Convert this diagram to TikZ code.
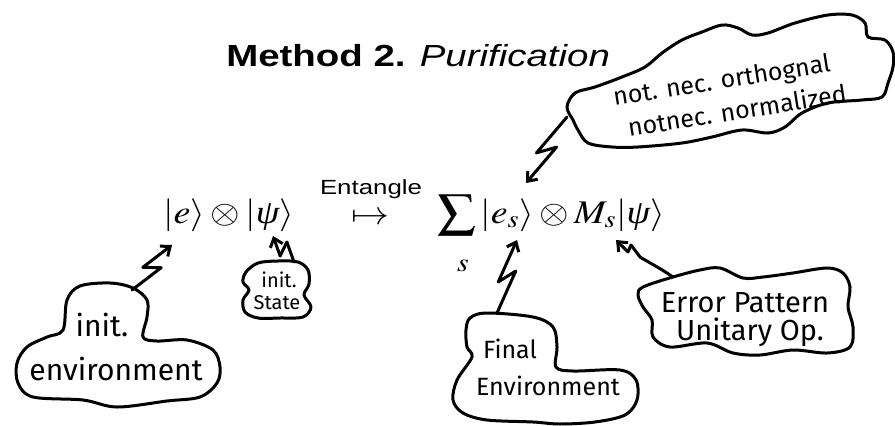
\documentclass[tikz,border=0pt]{standalone}
\usepackage{mathptmx}
\usepackage{fontspec}
\newfontfamily\titlefont{Liberation Sans}
\newfontfamily\tnr{Liberation Serif}
\newfontfamily\hand{Fira Sans}
\usetikzlibrary{arrows.meta,calc}
\newcommand\mpsi{\mbox{\tnr\itshape ψ}}
\tikzset{
  ink/.style={line width=3pt, line cap=round, line join=round},
  zap/.style={ink, -{Straight Barb[length=8pt,width=13pt]}},
  mtext/.style={inner sep=0pt, xscale=1.15, font=\fontsize{33}{38}\selectfont},
  hw/.style={inner sep=0pt, font=\hand\fontsize{#1}{#1}\selectfont},
}
\newcommand\zapline[2]{\draw[zap] (#1) -- ($(#1)!0.6!(#2)!7pt!-90:(#2)$) -- ($(#1)!0.4!(#2)!7pt!90:(#2)$) -- (#2);}
\begin{document}
\begin{tikzpicture}[x=1pt,y=-1pt]
\useasboundingbox (0,0) rectangle (895,426);
\fill[white] (0,0) rectangle (895,426);
% title
\node[anchor=base west, inner sep=0pt, xscale=1.26, font=\titlefont\fontsize{30.5}{34}\selectfont] (title) at (226,66) {\textbf{Method 2.} \textit{Purification}};
% formulas
\node[mtext, anchor=base west] (lhs) at (163,223) {$|e\rangle \otimes |\mpsi\rangle$};
\node[mtext, anchor=base] (mapsto) at (370,224) {$\mapsto$};
\node[anchor=base, inner sep=0pt, xscale=1.26, font=\titlefont\fontsize{20.5}{24}\selectfont] (ent) at (371,194) {Entangle};
\node[mtext, anchor=base west] (rhs) at (437,223) {$\displaystyle\sum|e_s\rangle \otimes M_s|\mpsi\rangle$};
\node[mtext, anchor=base, font=\fontsize{26}{30}\selectfont] (sub) at (463,271) {$s$};
% arrow targets
\coordinate (te) at (172,245);
\coordinate (tpsi) at (273,236);
\coordinate (tes) at (517,240);
\coordinate (tesup) at (526,183);
\coordinate (tms) at (616,240);
% cloud 1: init. environment
\draw[ink] plot[smooth cycle, tension=0.55] coordinates {(63,330) (67,300) (80,286) (110,283) (133,288) (147,300) (147,317) (143,337) (157,341) (187,340) (213,350) (220,367) (217,383) (200,397) (167,401) (117,407) (83,400) (33,397) (18,383) (17,363) (27,347) (47,337)};
\node[hw=30, anchor=base] (env1a) at (102,336) {init.};
\node[hw=30, anchor=base] (env1b) at (116,380) {environment};
\coordinate (s1) at (132,290);
\zapline{s1}{te}
% cloud 2: init. State
\draw[ink] plot[smooth cycle, tension=0.55] coordinates {(246,272) (258,263) (278,261) (298,262) (308,270) (309,284) (304,295) (311,307) (303,317) (280,318) (258,318) (245,312) (243,300) (249,290) (243,282)};
\node[hw=20, anchor=base] (st1) at (279,287) {init.};
\node[hw=20, anchor=base] (st2) at (277,309) {State};
\coordinate (s2) at (294,262);
\zapline{s2}{tpsi}
% cloud 3: Final Environment
\draw[ink] plot[smooth cycle, tension=0.55] coordinates {(466,330) (470,318) (487,313) (533,317) (553,327) (557,347) (556,367) (573,371) (620,370) (636,380) (637,400) (625,415) (595,422) (560,424) (533,422) (487,420) (463,413) (453,400) (457,380) (472,357) (467,347)};
\node[hw=25, anchor=base] (fin1) at (510,358) {Final};
\node[hw=25, anchor=base] (fin2) at (548,395) {Environment};
\coordinate (s3) at (497,313);
\zapline{s3}{tes}
% cloud 4: Error Pattern Unitary Op.
\draw[ink] plot[smooth cycle, tension=0.55] coordinates {(643,287) (673,277) (700,270) (720,268) (743,278) (763,277) (793,273) (827,268) (843,273) (850,287) (848,307) (853,327) (850,347) (827,353) (793,350) (760,355) (733,353) (707,343) (670,347) (653,337) (652,320) (643,307) (638,295)};
\node[hw=29, anchor=base] (err1) at (745,312) {Error Pattern};
\node[hw=29, anchor=base] (err2) at (750,340) {Unitary Op.};
\coordinate (s4) at (673,277);
\draw[zap] (s4) .. controls (660,268) and (648,262) .. (640,257) -- (631,245) -- (628,252) -- (tms);
% cloud 5: not nec.
\draw[ink] plot[smooth cycle, tension=0.55] coordinates {(567,107) (575,93) (595,87) (622,77) (645,67) (662,53) (682,40) (702,32) (722,25) (738,28) (752,35) (768,33) (795,23) (828,15) (852,15) (865,23) (868,37) (885,40) (893,52) (893,67) (888,83) (882,97) (862,100) (828,103) (802,113) (785,127) (768,133) (742,130) (712,137) (682,143) (638,147) (612,147) (588,143) (578,130) (573,120)};
\node[hw=25, anchor=center, rotate=9] (nec1) at (722,82) {not. nec. orthognal};
\node[hw=25, anchor=center, rotate=9] (nec2) at (737,110) {notnec. normalized};
\coordinate (s5) at (567,117);
\zapline{s5}{tesup}
\end{tikzpicture}
\end{document}
